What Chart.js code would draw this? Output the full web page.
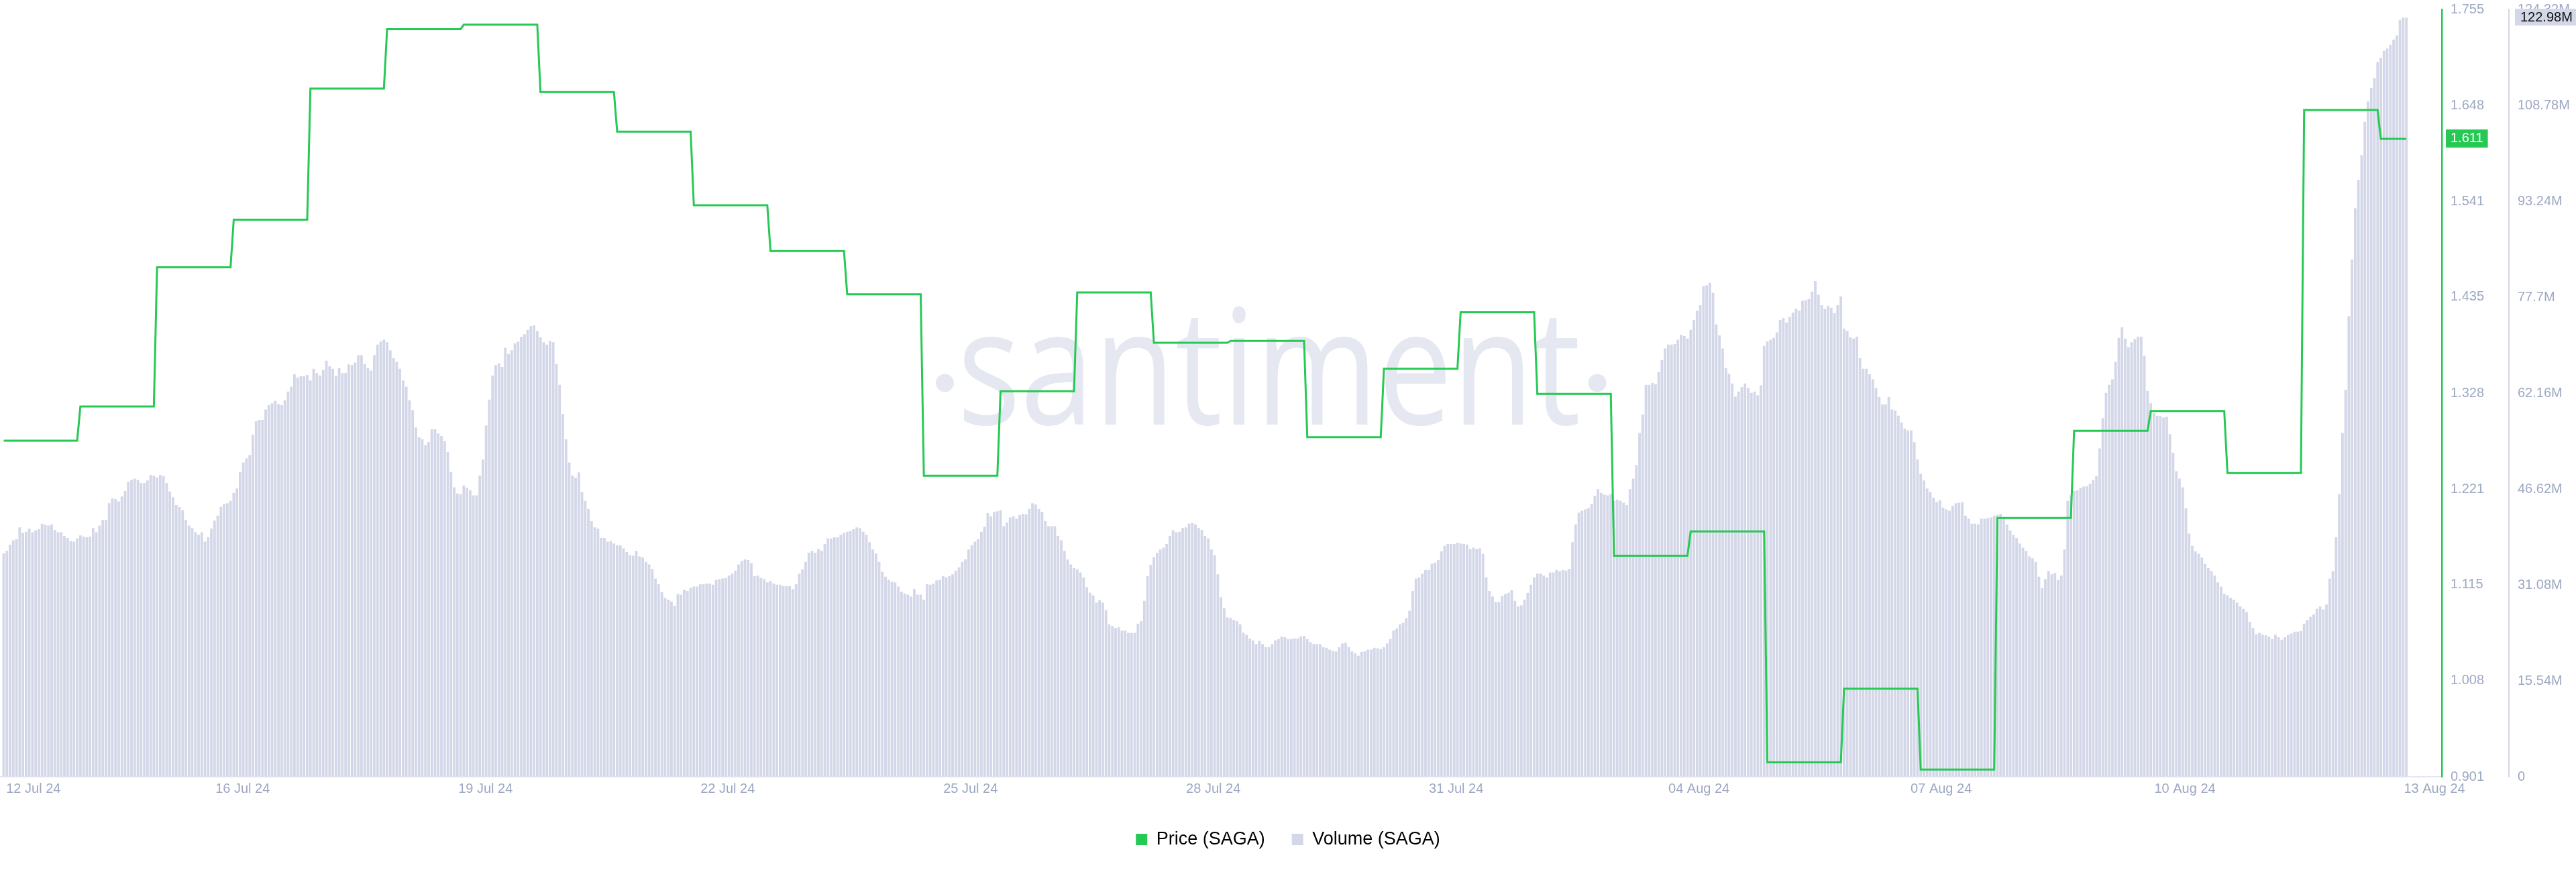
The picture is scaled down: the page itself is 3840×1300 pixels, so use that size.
<!DOCTYPE html>
<html>
<head>
<meta charset="utf-8">
<title>SAGA price and volume</title>
<script src="https://cdn.jsdelivr.net/npm/chart.js@4.4.1/dist/chart.umd.min.js"></script>
<style>
  html, body { margin: 0; padding: 0; background: #ffffff; }
  #wrap { width: 3840px; height: 1300px; position: relative; }
</style>
</head>
<body>
<div id="wrap"><canvas id="chart" width="3840" height="1300"></canvas></div>
<script>
// Hourly trading volume of SAGA, in millions (one value per hour, oldest first)
const volumeM = [
  36.2,36.6,37.6,38.3,38.5,40.4,39.5,39.7,40.2,39.6,
  39.9,40.1,41.0,40.8,40.7,40.9,40.0,39.6,39.6,39.0,
  38.7,38.2,38.1,38.6,39.1,38.9,38.8,38.9,40.3,39.6,
  40.7,41.6,41.6,44.3,45.1,45.0,44.6,45.4,46.3,47.8,
  48.1,48.3,48.1,47.6,47.6,48.0,48.9,48.8,48.5,48.9,
  48.7,47.6,46.2,45.3,44.0,43.7,43.2,41.6,40.7,40.3,
  39.6,39.2,39.6,38.1,38.8,40.2,41.5,42.3,43.7,44.2,
  44.3,44.7,46.0,46.7,49.4,50.9,51.6,52.1,55.4,57.6,
  57.8,57.8,59.5,60.2,60.5,60.9,60.4,60.2,61.0,62.4,
  63.2,65.2,64.7,64.9,64.9,65.1,64.2,66.1,65.4,65.0,
  65.9,67.4,66.5,66.1,64.9,66.2,65.4,65.4,66.8,66.7,
  67.1,68.3,68.3,66.9,66.2,65.8,68.3,70.0,70.5,70.8,
  70.4,69.1,67.8,67.2,66.1,64.2,63.2,61.0,59.4,56.6,
  55.0,54.7,53.7,54.2,56.3,56.3,55.6,55.2,54.4,52.6,
  49.4,46.9,45.9,45.8,47.2,46.8,46.4,45.6,45.6,48.8,
  51.4,56.9,61.1,65.0,66.7,67.0,66.4,69.5,68.5,69.1,
  70.2,70.5,71.3,71.7,72.4,73.0,73.1,72.2,71.2,70.4,
  70.0,70.6,70.4,66.9,63.5,58.8,54.7,50.9,48.8,48.4,
  49.3,46.1,44.7,43.4,41.4,40.4,40.2,38.7,
  38.7,38.1,38.2,37.8,37.5,37.5,37.0,36.4,35.9,35.8,
  36.6,35.7,35.5,34.8,34.4,33.7,32.1,31.2,29.9,29.0,
  28.7,28.4,27.7,29.6,29.5,30.3,30.1,30.6,30.8,30.8,
  31.2,31.2,31.3,31.3,31.1,31.9,32.0,32.1,32.2,32.6,
  32.9,33.4,34.4,34.9,35.2,35.1,34.6,32.5,32.6,32.2,
  32.0,31.5,31.7,31.3,31.1,31.1,30.9,30.9,30.9,30.4,
  31.2,32.9,33.6,34.8,36.3,36.6,36.3,36.9,36.6,37.7,
  38.6,38.6,38.8,38.8,39.2,39.5,39.7,39.8,40.1,40.4,
  40.3,39.7,39.2,38.0,36.8,36.2,34.8,33.2,32.4,31.9,
  31.6,31.5,30.8,30.0,29.7,29.5,29.2,30.4,29.5,29.5,
  28.7,31.2,31.1,31.3,31.8,31.9,32.5,32.3,32.5,32.8,
  33.4,33.9,34.8,35.2,36.8,37.5,38.1,38.5,39.7,40.5,
  42.7,42.2,42.9,43.0,43.2,40.6,41.2,42.0,42.2,41.8,
  42.4,42.6,42.5,43.4,44.3,44.1,43.4,42.9,41.4,40.6,
  40.6,40.6,39.0,38.3,36.6,35.2,34.4,33.8,33.6,33.1,
  32.3,30.7,29.8,29.4,28.2,28.6,28.2,27.0,24.7,24.4,
  24.1,24.2,23.7,23.7,23.3,23.3,23.3,24.8,25.2,28.5,
  32.5,34.3,35.6,36.3,36.8,37.1,37.7,39.0,39.9,39.6,
  39.7,40.3,40.4,41.0,41.1,40.9,40.3,40.0,
  39.0,38.6,36.8,35.9,32.8,29.1,27.3,25.8,25.7,25.4,
  25.2,24.7,23.3,23.0,22.4,22.1,21.5,22.0,21.5,21.0,
  21.0,21.5,22.1,22.3,22.7,22.6,22.3,22.3,22.4,22.4,
  22.7,22.8,22.3,21.8,21.5,21.5,21.5,21.0,20.9,20.6,
  20.4,20.3,21.0,21.6,21.7,21.0,20.3,20.0,19.6,20.2,
  20.3,20.6,20.6,20.9,20.8,20.7,21.0,21.6,22.3,23.7,
  24.0,24.7,24.9,25.7,26.9,30.1,32.1,32.3,32.9,33.5,
  33.5,34.5,34.7,35.1,36.5,37.4,37.7,37.7,37.7,37.9,
  37.8,37.7,37.6,36.9,37.1,36.9,37.0,36.1,32.3,30.1,
  29.2,28.3,28.3,29.3,29.6,29.8,30.2,28.5,27.6,27.8,
  28.7,29.8,31.1,32.3,32.9,32.9,32.6,32.3,33.1,33.1,
  33.5,33.3,33.5,33.4,33.7,38.0,40.9,42.8,43.1,43.3,
  43.5,44.2,45.5,46.6,46.0,45.7,45.6,45.8,44.7,44.9,
  44.7,44.4,44.0,46.6,48.3,50.5,55.7,58.7,63.5,63.5,
  63.8,63.6,65.6,67.5,69.4,70.0,70.0,70.1,70.8,71.6,
  71.4,71.0,72.4,74.0,75.5,76.4,79.5,79.6,80.0,78.4,
  73.3,71.5,69.4,66.2,65.3,63.7,61.6,62.4,63.1,63.7,
  63.0,62.2,62.4,61.8,63.4,69.8,70.5,70.8,71.1,72.0,
  74.0,74.3,73.6,74.5,75.2,75.8,75.5,77.1,
  77.2,77.4,78.6,80.3,78.1,76.4,75.8,76.3,76.0,75.1,
  76.4,77.8,72.6,72.2,71.2,71.0,71.3,67.8,66.1,66.1,
  65.2,64.4,63.0,61.5,60.3,60.3,61.5,59.5,59.3,58.5,
  57.4,56.4,56.1,56.1,54.2,51.4,49.1,48.0,46.7,46.1,
  45.2,44.5,44.8,43.6,43.3,43.1,43.9,44.3,44.4,44.5,
  42.3,41.8,41.0,41.0,40.9,41.8,41.8,41.9,42.0,42.3,
  42.4,42.6,41.9,40.9,39.9,39.2,38.7,37.8,37.1,36.6,
  35.7,35.4,34.8,32.4,30.6,32.0,33.3,32.8,33.0,31.9,
  32.6,36.8,44.7,45.6,46.3,46.4,46.8,47.0,47.1,47.5,
  48.1,48.7,53.2,58.1,62.2,63.5,64.4,67.2,71.1,72.8,
  71.0,69.6,70.4,70.9,71.3,71.3,68.2,62.5,60.5,58.9,
  58.5,58.4,58.2,58.3,55.5,52.5,49.5,48.3,46.9,43.5,
  39.4,37.4,36.5,36.1,35.5,34.5,33.8,33.3,32.6,31.5,
  30.8,29.6,29.4,29.0,28.7,28.2,27.6,27.2,26.7,25.1,
  24.1,23.1,23.3,23.0,22.9,22.7,22.3,23.0,22.6,22.2,
  22.6,23.0,23.2,23.5,23.5,23.6,24.8,25.4,25.9,26.3,
  27.2,27.6,27.1,27.9,32.1,33.3,38.8,45.8,55.7,62.7,
  74.6,83.8,92.1,96.7,100.7,106.1,109.4,111.6,113.2,115.8,
  116.5,117.6,118.0,118.6,119.4,120.1,122.6,123.0,122.98
];

// Daily SAGA price in USD, one value per day (each day covers 24 hourly slots)
const dailyPrice = [
  1.275, 1.313, 1.468, 1.521, 1.667, 1.733, 1.738, 1.663,
  1.619, 1.537, 1.486, 1.438, 1.236, 1.330, 1.440, 1.384,
  1.386, 1.279, 1.355, 1.418, 1.327, 1.147, 1.174, 0.917,
  0.999, 0.909, 1.189, 1.286, 1.308, 1.239, 1.643, 1.611
];

// Axis ticks
const priceTicks = [0.901, 1.008, 1.115, 1.221, 1.328, 1.435, 1.541, 1.648, 1.755];
const priceTickLabels = ['0.901', '1.008', '1.115', '1.221', '1.328', '1.435', '1.541', '1.648', '1.755'];
const volumeTicks = [0, 15.54, 31.08, 46.62, 62.16, 77.7, 93.24, 108.78, 124.32];
const volumeTickLabels = ['0', '15.54M', '31.08M', '46.62M', '62.16M', '77.7M', '93.24M', '108.78M', '124.32M'];
// Date ticks, in hours from the first hourly sample
const dateTickHours = [9.3, 74.8, 150.8, 226.6, 302.6, 378.6, 454.6, 530.6, 606.4, 682.7, 760.8];
const dateTickLabels = ['12 Jul 24', '16 Jul 24', '19 Jul 24', '22 Jul 24', '25 Jul 24', '28 Jul 24',
                        '31 Jul 24', '04 Aug 24', '07 Aug 24', '10 Aug 24', '13 Aug 24'];

const GREEN = '#26c953';
const LAVENDER = '#d3d7e8';
const AXIS_TEXT = '#9ea8c2';
const FONT = '"Liberation Sans", Arial, Helvetica, sans-serif';

const lastHour = volumeM.length - 1;

// Each daily price is held flat across its 24 hours
const pricePoints = [];
dailyPrice.forEach((p, d) => {
  const start = d * 24;
  const end = Math.min(d * 24 + 23, lastHour);
  pricePoints.push({ x: start, y: p }, { x: end, y: p });
});
const volumePoints = volumeM.map((v, i) => ({ x: i, y: v }));

// Right-hand value axes: fixed width, no extra label padding above/below the plot
function fitValueAxis(s) {
  s.width = 100;
  s.paddingTop = 0;
  s.paddingBottom = 0;
}

// Faint brand mark behind the series, plus the value badges on the right axes
const overlay = {
  id: 'overlay',
  beforeDatasetsDraw(chart) {
    const ctx = chart.ctx;
    const a = chart.chartArea;
    const baseline = a.top + 619;
    ctx.save();
    ctx.fillStyle = '#e5e8f1';
    ctx.font = '100px "Open Sans"';
    ctx.textBaseline = 'alphabetic';
    ctx.textAlign = 'left';
    const m = ctx.measureText('santiment');
    const xh = ctx.measureText('x').actualBoundingBoxAscent || 53.5;
    const inkW = m.actualBoundingBoxLeft + m.actualBoundingBoxRight;
    const sx = 916 / inkW;
    const sy = 130 / xh;
    ctx.translate(a.left + 1437, baseline);
    ctx.scale(sx, sy);
    ctx.fillText('santiment', m.actualBoundingBoxLeft, 0);
    ctx.restore();
    ctx.save();
    ctx.fillStyle = '#e5e8f1';
    ctx.beginPath();
    ctx.arc(a.left + 1408.5, baseline - 62, 13.5, 0, Math.PI * 2);
    ctx.arc(a.left + 2381, baseline - 62, 13.5, 0, Math.PI * 2);
    ctx.fill();
    ctx.restore();
  },
  afterDraw(chart) {
    const ctx = chart.ctx;
    const yP = chart.scales.yPrice;
    const yV = chart.scales.yVol;
    const lastPrice = dailyPrice[dailyPrice.length - 1];
    const lastVol = volumeM[volumeM.length - 1];
    ctx.save();
    ctx.font = '20px ' + FONT;
    ctx.textBaseline = 'middle';
    ctx.textAlign = 'left';

    const pText = lastPrice.toFixed(3);
    const py = yP.getPixelForValue(lastPrice);
    const pw = ctx.measureText(pText).width + 14;
    ctx.fillStyle = GREEN;
    ctx.fillRect(yP.left + 6, Math.round(py - 14), pw, 27);
    ctx.fillStyle = '#ffffff';
    ctx.fillText(pText, yP.left + 13, py);

    const vText = lastVol.toFixed(2) + 'M';
    const vy = yV.getPixelForValue(lastVol);
    const vx = yV.left + 9;
    ctx.fillStyle = LAVENDER;
    ctx.fillRect(vx, Math.round(vy - 13), chart.width - vx, 25);
    ctx.fillStyle = '#111111';
    ctx.fillText(vText, vx + 8, vy);
    ctx.restore();
  }
};

function build() {
  Chart.defaults.font.family = FONT;
  new Chart(document.getElementById('chart'), {
    type: 'bar',
    data: {
      datasets: [
        {
          type: 'line',
          label: 'Price (SAGA)',
          data: pricePoints,
          yAxisID: 'yPrice',
          borderColor: GREEN,
          backgroundColor: GREEN,
          borderWidth: 3,
          pointRadius: 0,
          tension: 0,
          order: 0
        },
        {
          type: 'bar',
          label: 'Volume (SAGA)',
          data: volumePoints,
          yAxisID: 'yVol',
          backgroundColor: LAVENDER,
          borderWidth: 0,
          categoryPercentage: 0.8,
          barPercentage: 1.0,
          order: 1
        }
      ]
    },
    options: {
      responsive: false,
      animation: false,
      devicePixelRatio: 1,
      layout: { padding: { top: 14, bottom: 25, left: 0, right: 0 } },
      plugins: {
        tooltip: { enabled: false },
        legend: {
          position: 'bottom',
          align: 'center',
          labels: {
            boxWidth: 17,
            boxHeight: 17,
            padding: 40,
            color: '#1c2030',
            font: { family: FONT, size: 27 },
            generateLabels: (chart) => chart.data.datasets.map((ds, i) => ({
              text: ds.label,
              fillStyle: ds.backgroundColor,
              strokeStyle: ds.backgroundColor,
              lineWidth: 0,
              hidden: false,
              datasetIndex: i
            }))
          }
        }
      },
      scales: {
        x: {
          type: 'linear',
          min: -1.155,
          max: 763.1,
          offset: false,
          bounds: 'data',
          grid: { display: true, drawOnChartArea: false, drawTicks: false },
          border: { display: true, color: '#e4e7ef', width: 2 },
          afterBuildTicks: (s) => { s.ticks = dateTickHours.map(v => ({ value: v })); },
          afterFit: (s) => { s.height = 40; },
          ticks: {
            autoSkip: false,
            maxRotation: 0,
            minRotation: 0,
            padding: 6,
            color: AXIS_TEXT,
            font: { family: FONT, size: 20 },
            callback: (v, i) => dateTickLabels[i]
          }
        },
        yPrice: {
          type: 'linear',
          position: 'right',
          min: 0.901,
          max: 1.755,
          bounds: 'data',
          grid: { display: true, drawOnChartArea: false, drawTicks: false },
          border: { display: true, color: GREEN, width: 2.5 },
          afterBuildTicks: (s) => { s.ticks = priceTicks.map(v => ({ value: v })); },
          afterFit: fitValueAxis,
          ticks: {
            padding: 13,
            color: AXIS_TEXT,
            font: { family: FONT, size: 20 },
            callback: (v, i) => priceTickLabels[i]
          }
        },
        yVol: {
          type: 'linear',
          position: 'right',
          min: 0,
          max: 124.32,
          bounds: 'data',
          grid: { display: true, drawOnChartArea: false, drawTicks: false },
          border: { display: true, color: LAVENDER, width: 2 },
          afterBuildTicks: (s) => { s.ticks = volumeTicks.map(v => ({ value: v })); },
          afterFit: fitValueAxis,
          ticks: {
            padding: 13,
            color: AXIS_TEXT,
            font: { family: FONT, size: 20 },
            callback: (v, i) => volumeTickLabels[i]
          }
        }
      }
    },
    plugins: [overlay]
  });
}

if (document.fonts && document.fonts.load) {
  Promise.all([
    document.fonts.load('100px "Open Sans"'),
    document.fonts.load('20px "Liberation Sans"')
  ]).then(build, build);
} else {
  build();
}
</script>
</body>
</html>
